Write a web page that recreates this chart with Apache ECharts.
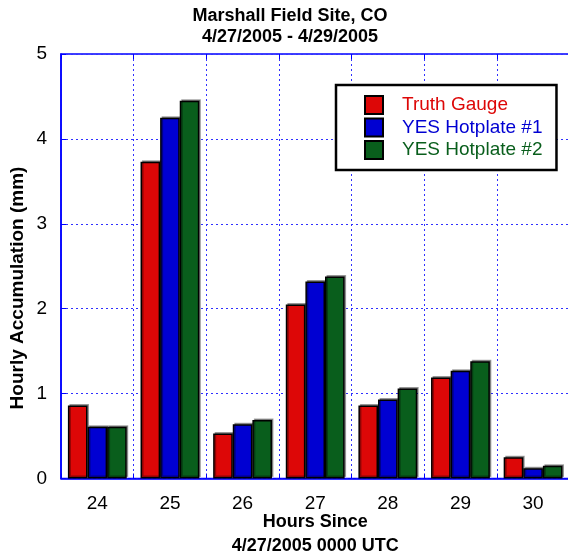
<!DOCTYPE html>
<html>
<head>
<meta charset="utf-8">
<script src="https://cdn.jsdelivr.net/npm/echarts@6/dist/echarts.min.js"></script>
<style>html,body{margin:0;padding:0;background:#fff;}#c{width:568px;height:556px;}</style>
</head>
<body>
<div id="c"></div>
<script>
var categories = ['24', '25', '26', '27', '28', '29', '30'];
var truthGauge = [0.86, 3.73, 0.53, 2.05, 0.86, 1.19, 0.25];
var hotplate1 = [0.61, 4.25, 0.64, 2.32, 0.93, 1.27, 0.12];
var hotplate2 = [0.61, 4.45, 0.69, 2.38, 1.06, 1.38, 0.15];
var seriesNames = ['Truth Gauge', 'YES Hotplate #1', 'YES Hotplate #2'];
var seriesColors = ['#dd0707', '#0000d2', '#095e1c'];
var yTicks = [0, 1, 2, 3, 4, 5];

var FONT = '"Liberation Sans", Arial, sans-serif';
var chart = echarts.init(document.getElementById('c'), null, {renderer: 'canvas'});

function barSeries(i, data) {
  return {
    name: seriesNames[i],
    type: 'bar',
    data: data,
    barGap: '0%',
    barCategoryGap: '19%',
    itemStyle: {
      color: seriesColors[i],
      borderColor: '#000',
      borderWidth: 1.5,
      shadowColor: 'rgba(0,0,0,0.35)',
      shadowOffsetX: 1.5,
      shadowOffsetY: -1.5,
      shadowBlur: 0
    }
  };
}

var gridLine = {show: true, lineStyle: {color: '#3030ff', width: 1, type: [2, 3]}};

chart.setOption({
  animation: false,
  backgroundColor: '#fff',
  title: {
    text: 'Marshall Field Site, CO\n4/27/2005 - 4/29/2005',
    left: 290,
    textAlign: 'center',
    top: 6,
    padding: 0,
    textStyle: {fontFamily: FONT, fontSize: 18, fontWeight: 'bold', color: '#000', lineHeight: 21}
  },
  legend: {
    orient: 'vertical',
    left: 336,
    top: 85,
    padding: [10, 14, 10, 28],
    itemWidth: 18,
    itemHeight: 18,
    itemGap: 2.5,
    backgroundColor: '#fff',
    borderColor: '#000',
    borderWidth: 2.5,
    borderRadius: 0,
    icon: 'rect',
    selectedMode: false,
    textStyle: {fontFamily: FONT, fontSize: 19, lineHeight: 18, padding: [0, 0, 0, 14]},
    data: seriesNames.map(function (n, i) {
      return {name: n, textStyle: {color: seriesColors[i]}, itemStyle: {shadowBlur: 0, shadowOffsetX: 0, shadowOffsetY: 0, shadowColor: 'transparent'}};
    })
  },
  grid: {left: 61, top: 54, right: -1.4, bottom: 77.5, containLabel: false, outerBoundsMode: 'none', show: true, borderColor: '#0000ff', borderWidth: 1.5, backgroundColor: 'transparent'},
  xAxis: [{
    type: 'category',
    data: categories,
    name: 'Hours Since\n4/27/2005 0000 UTC',
    nameLocation: 'middle',
    nameGap: 32,
    nameMoveOverlap: false,
    nameTextStyle: {fontFamily: FONT, fontSize: 18, fontWeight: 'bold', color: '#000', lineHeight: 24, verticalAlign: 'top'},
    axisLine: {show: true, lineStyle: {color: '#0000ff', width: 1.5}},
    axisTick: {show: true, inside: true, length: 5, lineStyle: {color: '#0000ff'}},
    axisLabel: {fontFamily: FONT, fontSize: 19, color: '#000', margin: 16},
    splitLine: gridLine
  }, {
    type: 'category',
    data: categories,
    position: 'top',
    axisLine: {show: false},
    axisTick: {show: true, inside: true, length: 5, lineStyle: {color: '#0000ff'}},
    axisLabel: {show: false},
    splitLine: {show: false}
  }],
  yAxis: {
    type: 'value',
    min: 0,
    max: 5,
    interval: 1,
    axisLine: {show: true, lineStyle: {color: '#0000ff', width: 1.5}},
    axisTick: {show: true, inside: true, length: 5, lineStyle: {color: '#0000ff'}},
    axisLabel: {fontFamily: FONT, fontSize: 19, color: '#000', margin: 14,
      formatter: function (v) { return yTicks.indexOf(v) >= 0 ? String(v) : ''; }},
    splitLine: gridLine
  },
  graphic: [{
    type: 'text',
    x: 17.5,
    y: 288,
    rotation: Math.PI / 2,
    style: {text: 'Hourly Accumulation (mm)', font: 'bold 19px ' + FONT, fill: '#000', align: 'center', verticalAlign: 'middle'}
  }],
  series: [barSeries(0, truthGauge), barSeries(1, hotplate1), barSeries(2, hotplate2)]
});
</script>
</body>
</html>
